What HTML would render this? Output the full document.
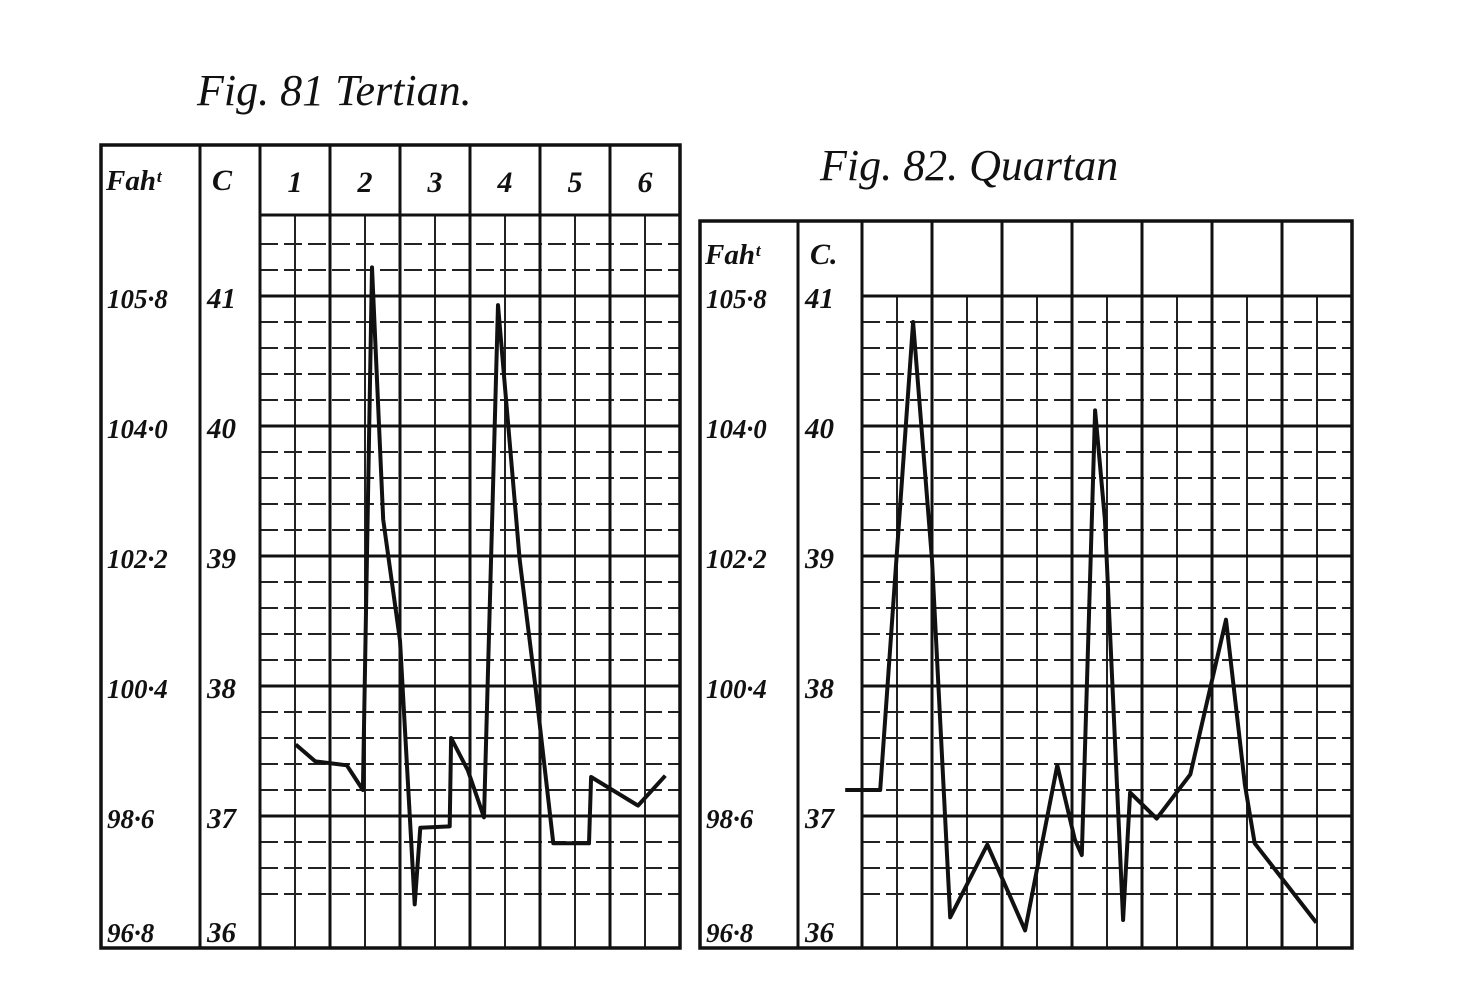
<!DOCTYPE html>
<html><head><meta charset="utf-8"><style>
body{margin:0;background:#fff;}
svg{display:block;}
text{font-family:"Liberation Serif",serif;font-style:italic;font-weight:bold;fill:#111;}
</style></head><body>
<svg id="svg" width="1484" height="1002" viewBox="0 0 1484 1002" xmlns="http://www.w3.org/2000/svg">
<text x="197" y="105" font-size="44" style="font-weight:normal">Fig. 81 Tertian.</text>
<text x="820" y="180" font-size="44" style="font-weight:normal">Fig. 82. Quartan</text>
</svg>
<script>
// Fig 81 (Tertian) data: x in day units, temperature in °C
const t81Days = [0.51,0.79,1.24,1.47,1.6,1.76,2.0,2.21,2.29,2.71,2.73,2.97,3.2,3.4,3.71,3.94,4.19,4.7,4.73,5.4,5.79];
const t81Temps = [37.55,37.42,37.39,37.2,41.22,39.28,38.35,36.32,36.91,36.92,37.6,37.35,36.99,40.93,38.97,37.97,36.79,36.79,37.3,37.08,37.31];
// Fig 82 (Quartan) data
const q82Days = [-0.24,0.26,0.73,1.0,1.26,1.79,2.33,2.79,3.04,3.14,3.33,3.47,3.73,3.83,4.21,4.69,5.2,5.47,5.61,6.49];
const q82Temps = [37.2,37.2,40.8,38.97,36.22,36.78,36.12,37.39,36.82,36.7,40.12,39.28,36.2,37.18,36.98,37.32,38.51,37.24,36.79,36.18];
const fahLabels = ["105·8","104·0","102·2","100·4","98·6","96·8"];
const celLabels = ["41","40","39","38","37","36"];
const dayLabels81 = ["1","2","3","4","5","6"];

const svg = document.getElementById('svg');
const NS = 'http://www.w3.org/2000/svg';
function mk(tag, attrs){const e=document.createElementNS(NS,tag);for(const k in attrs)e.setAttribute(k,attrs[k]);svg.appendChild(e);return e;}

function panel(cfg){
  const {left,fahR,celR,top,headBot,right,bottom,nDays,prefix,days,temps,dayLabels,headerY} = cfg;
  const chartL = celR, colW = (right-chartL)/nDays;
  const yOf = T => 296 + (41-T)*130;
  const xOf = d => chartL + d*colW;
  for(let i=0;i<=25;i++){
    const T = 41.4 - i*0.2; const y=yOf(T);
    if(y<=headBot+2||y>=bottom-2) continue;
    if(Math.abs(T-Math.round(T))<0.01) continue;
    const l=mk('line',{x1:chartL,x2:right,y1:y,y2:y,stroke:'#222','stroke-width':2,'stroke-dasharray':'18 6'});
    
    
  }
  for(let d=0;d<nDays;d++){
    const x=xOf(d+0.5);
    const l=mk('line',{x1:x,x2:x,y1:headBot,y2:bottom,stroke:'#222','stroke-width':2});
    
    
  }
  for(let T=41;T>=36;T--){
    const y=yOf(T); if(y>=bottom-2) continue;
    const l=mk('line',{x1:chartL,x2:right,y1:y,y2:y,stroke:'#111','stroke-width':3});
    
    
  }
  for(let d=1;d<nDays;d++){
    const x=xOf(d);
    const l=mk('line',{x1:x,x2:x,y1:top,y2:bottom,stroke:'#111','stroke-width':3});
    
    
  }
  const h=mk('line',{x1:chartL,x2:right,y1:headBot,y2:headBot,stroke:'#111','stroke-width':3});
  
  
  [fahR,celR].forEach(x=>{
    const l=mk('line',{x1:x,x2:x,y1:top,y2:bottom,stroke:'#111','stroke-width':3});
    
    
  });
  const box=mk('rect',{x:left,y:top,width:right-left,height:bottom-top,fill:'none',stroke:'#111','stroke-width':3.5});
  
  
  const ht1=mk('text',{x:left+5,y:headerY,'font-size':29}); ht1.textContent='Fahᵗ';
  
  
  const ht2=mk('text',{x:fahR+12,y:headerY,'font-size':30}); ht2.textContent= prefix==='fig81'?'C':'C.';
  
  
  for(let i=0;i<6;i++){
    let y=yOf(41-i)+12; if(i===5) y=bottom-6;
    const a=mk('text',{x:left+6,y:y,'font-size':27}); a.textContent=fahLabels[i];
    
    
    const b=mk('text',{x:fahR+7,y:y,'font-size':29}); b.textContent=celLabels[i];
    
    
  }
  if(dayLabels){
    dayLabels.forEach((s,i)=>{
      const t=mk('text',{x:xOf(i+0.5),y:(top+headBot)/2+12,'font-size':30,'text-anchor':'middle'}); t.textContent=s;
      
      
    });
  }
  const pts=days.map((d,i)=>xOf(d).toFixed(1)+','+yOf(temps[i]).toFixed(1)).join(' ');
  const p=mk('polyline',{points:pts,fill:'none',stroke:'#111','stroke-width':4,'stroke-linejoin':'round'});
  
  
}
panel({left:101,fahR:200,celR:260,top:145,headBot:215,right:680,bottom:948,nDays:6,prefix:'fig81',days:t81Days,temps:t81Temps,dayLabels:dayLabels81,headerY:190});
panel({left:700,fahR:798,celR:862,top:221,headBot:296,right:1352,bottom:948,nDays:7,prefix:'fig82',days:q82Days,temps:q82Temps,dayLabels:null,headerY:264});
</script>
</body></html>
